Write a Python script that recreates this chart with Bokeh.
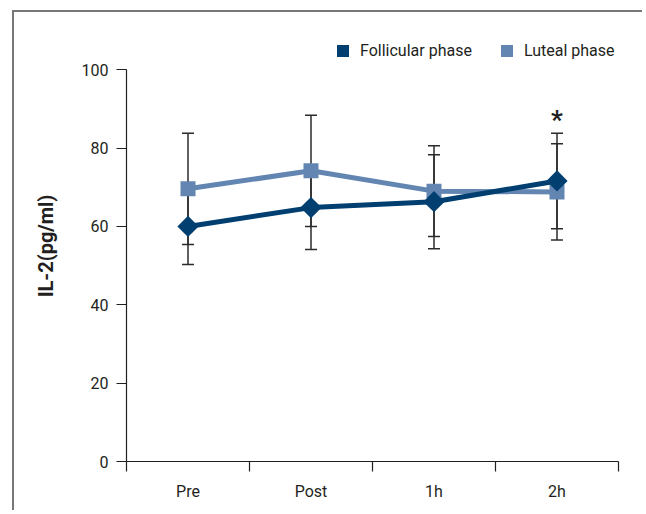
from bokeh.plotting import figure
from bokeh.models import (ColumnDataSource, Whisker, TeeHead, Range1d,
                          FixedTicker, Legend, LegendItem)
from bokeh.core.properties import value
from bokeh.embed import file_html
from bokeh.resources import INLINE

# ---- data ----
cats = ["Pre", "Post", "1h", "2h"]
fol_mean = [60.0, 64.8, 66.3, 71.6]
fol_sd = [9.7, 10.7, 12.0, 12.2]
lut_mean = [69.6, 74.2, 69.0, 68.8]
lut_sd = [14.2, 14.2, 11.6, 12.3]
sig_marks = ["", "", "", "*"]
yticks = [0, 20, 40, 60, 80, 100]
series_names = ["Follicular phase", "Luteal phase"]

DARK = "#003f70"
LIGHT = "#6285b1"
INK = "#231f20"
FONT = "Roboto"

# category centres on a linear scale (each category is one unit wide)
xc = [i + 0.5 for i in range(len(cats))]

fol_src = ColumnDataSource(dict(x=xc, y=fol_mean,
                                upper=[m + s for m, s in zip(fol_mean, fol_sd)],
                                lower=[m - s for m, s in zip(fol_mean, fol_sd)]))
lut_src = ColumnDataSource(dict(x=xc, y=lut_mean,
                                upper=[m + s for m, s in zip(lut_mean, lut_sd)],
                                lower=[m - s for m, s in zip(lut_mean, lut_sd)]))
top_err = [max(a, b) for a, b in zip(fol_src.data["upper"], lut_src.data["upper"])]

# y range extends above the axis (axis line bounded to 0-100) to leave room for the legend
p = figure(width=630, height=500,
           x_range=Range1d(0, len(cats)),
           y_range=Range1d(0, 110),
           output_backend="svg", toolbar_location=None,
           min_border_left=112, min_border_right=26,
           min_border_top=18, min_border_bottom=51)
p.margin = (10, 0, 0, 12)
p.styles = {"border-top": "2px solid #777777", "border-left": "2px solid #777777"}
p.outline_line_color = None
p.xgrid.visible = False
p.ygrid.visible = False

# x axis: labels at category centres, ticks at category edges
xaxis = p.xaxis[0]
xaxis.ticker = FixedTicker(ticks=xc, minor_ticks=list(range(len(cats) + 1)))
xaxis.major_label_overrides = {x: c for x, c in zip(xc, cats)}
xaxis.major_tick_out = 0
xaxis.major_tick_in = 0
xaxis.minor_tick_out = 10
xaxis.minor_tick_in = 0
xaxis.minor_tick_line_color = INK
xaxis.minor_tick_line_width = 1.2
xaxis.axis_line_color = INK
xaxis.axis_line_width = 1.2
xaxis.major_label_text_font = FONT
xaxis.major_label_text_font_size = "16px"
xaxis.major_label_text_color = INK
xaxis.major_label_standoff = 10

yaxis = p.yaxis[0]
yaxis.bounds = (yticks[0], yticks[-1])
yaxis.ticker = FixedTicker(ticks=yticks, minor_ticks=[])
yaxis.major_tick_out = 10
yaxis.major_tick_in = 0
yaxis.major_tick_line_color = INK
yaxis.major_tick_line_width = 1.2
yaxis.axis_line_color = INK
yaxis.axis_line_width = 1.2
yaxis.major_label_text_font = FONT
yaxis.major_label_text_font_size = "16px"
yaxis.major_label_text_color = INK
yaxis.major_label_standoff = 8
yaxis.axis_label = "IL-2(pg/ml)"
yaxis.axis_label_text_font = FONT
yaxis.axis_label_text_font_size = "20px"
yaxis.axis_label_text_font_style = "bold"
yaxis.axis_label_text_color = INK
yaxis.axis_label_standoff = 21

# error bars
for src in (lut_src, fol_src):
    w = Whisker(base="x", upper="upper", lower="lower", source=src,
                line_color="#2b2b2b", line_width=1.5,
                upper_head=TeeHead(size=12, line_color="#2b2b2b", line_width=1.5),
                lower_head=TeeHead(size=12, line_color="#2b2b2b", line_width=1.5))
    p.add_layout(w)

# luteal
p.line("x", "y", source=lut_src, line_color=LIGHT, line_width=5)
p.scatter("x", "y", source=lut_src, marker="square", size=15,
          fill_color=LIGHT, line_color=None)
# follicular
p.line("x", "y", source=fol_src, line_color=DARK, line_width=5)
p.scatter("x", "y", source=fol_src, marker="square", angle=0.785398, size=15,
          fill_color=DARK, line_color=None)

# significance marks
p.text(x=xc, y=top_err, text=sig_marks, text_align="center", text_baseline="bottom",
       y_offset=2, text_font=value(FONT), text_font_size="26px",
       text_font_style="bold", text_color=INK)

# legend swatches: zero-area quads that only provide the legend glyph colour
r1 = p.quad(left=[0], right=[0], top=[0], bottom=[0], fill_color=DARK, line_color=None)
r2 = p.quad(left=[0], right=[0], top=[0], bottom=[0], fill_color=LIGHT, line_color=None)
legend = Legend(items=[LegendItem(label=series_names[0], renderers=[r1], index=0),
                       LegendItem(label=series_names[1], renderers=[r2], index=0)],
                orientation="horizontal", location=(209, 401),
                glyph_width=15, glyph_height=15, label_height=15,
                label_standoff=10, spacing=27,
                padding=0, margin=0, border_line_color=None,
                background_fill_alpha=0,
                label_text_font=FONT, label_text_font_size="16px",
                label_text_color=INK)
p.add_layout(legend, "center")

open("out.html", "w").write(file_html(p, INLINE))
